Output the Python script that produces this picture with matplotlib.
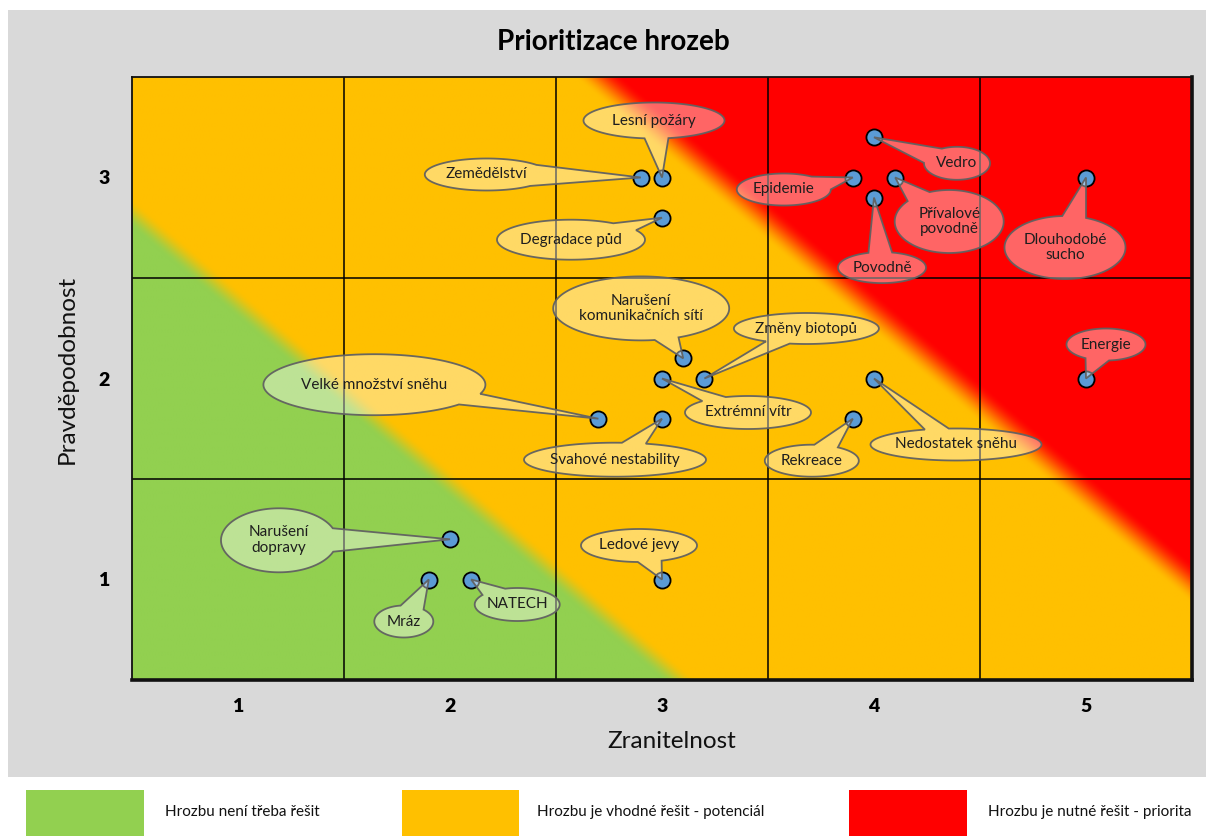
import numpy as np
import matplotlib
matplotlib.use("Agg")
import matplotlib.pyplot as plt
from matplotlib.patches import Rectangle, Polygon

plt.rcParams['font.family'] = ['Lato', 'DejaVu Sans']

# ---------------- data ----------------
threats = [
    "Lesní požáry", "Zemědělství", "Degradace půd", "Vedro", "Epidemie",
    "Přívalové\npovodně", "Povodně", "Dlouhodobé\nsucho", "Energie",
    "Narušení\nkomunikačních sítí", "Změny biotopů", "Extrémní vítr",
    "Velké množství sněhu", "Svahové nestability", "Nedostatek sněhu",
    "Rekreace", "Narušení\ndopravy", "Mráz", "NATECH", "Ledové jevy",
]
vulnerability = [3.0, 2.9, 3.0, 4.0, 3.9, 4.1, 4.0, 5.0, 5.0, 3.1,
                 3.2, 3.0, 2.7, 3.0, 4.0, 3.9, 2.0, 1.9, 2.1, 3.0]
probability = [3.0, 3.0, 2.8, 3.2, 3.0, 3.0, 2.9, 3.0, 2.0, 2.1,
               2.0, 2.0, 1.8, 1.8, 2.0, 1.8, 1.2, 1.0, 1.0, 1.0]

x_ticks = [1, 2, 3, 4, 5]
y_ticks = [1, 2, 3]
x_tick_labels = ["1", "2", "3", "4", "5"]
y_tick_labels = ["1", "2", "3"]

title = "Prioritizace hrozeb"
x_label = "Zranitelnost"
y_label = "Pravděpodobnost"
legend_labels = ["Hrozbu není třeba řešit",
                 "Hrozbu je vhodné řešit - potenciál",
                 "Hrozbu je nutné řešit - priorita"]

# ---------------- layout (pixels) ----------------
# callout: offset of ellipse centre from point (dx right, dy down), ellipse w, h
callout_layout = [
    (-8, -57, 141, 36), (-154, -3, 124, 32), (-91, 22, 148, 40),
    (83, 26, 66, 33), (-69, 12, 94, 32), (54, 44, 109, 63),
    (8, 70, 88, 31), (-21, 70, 121, 63), (20, -34, 79, 32),
    (-42, -50, 176, 64), (102, -50, 145, 31), (86, 34, 126, 33),
    (-224, -34, 222, 61), (-47, 41, 182, 34), (82, 66, 171, 32),
    (-41, 42, 94, 32), (-171, 1, 116, 64), (-25, 42, 59, 32),
    (46, 25, 85, 33), (-23, -34, 116, 33),
]

W, H = 1206, 836
GREEN, ORANGE, RED = "#92D050", "#FFC000", "#FF0000"

fig = plt.figure(figsize=(W / 100, H / 100), dpi=100, facecolor="white")
fig.patches.append(Rectangle((8 / W, 1 - 777 / H), 1 - 8 / W, (777 - 10) / H,
                             transform=fig.transFigure, facecolor="#D9D9D9",
                             edgecolor="none", zorder=-5))

ax = fig.add_axes([132 / W, 1 - 680 / H, 1060 / W, 603 / H])
ax.set_zorder(2)

# background gradient (diagonal bands)
ny, nx = 500, 900
U, V = np.meshgrid((np.arange(nx) + 0.5) / nx, (np.arange(ny) + 0.5) / ny)
s = 1.5 * U + V


def smooth(t):
    t = np.clip(t, 0, 1)
    return t * t * (3 - 2 * t)


g2o = smooth((s - 0.750) / 0.05)[..., None]
o2r = smooth((s - 1.625) / 0.07)[..., None]
cg = np.array(matplotlib.colors.to_rgb(GREEN))
co = np.array(matplotlib.colors.to_rgb(ORANGE))
cr = np.array(matplotlib.colors.to_rgb(RED))
img = cg * (1 - g2o) + co * g2o
img = img * (1 - o2r) + cr * o2r
ax.imshow(img, extent=(0.5, 5.5, 0.5, 3.5), origin="lower", aspect="auto",
          interpolation="bilinear", zorder=0)
ax.set_xlim(0.5, 5.5)
ax.set_ylim(0.5, 3.5)

for gx in [1.5, 2.5, 3.5, 4.5]:
    ax.axvline(gx, color="black", lw=1.1, zorder=1)
for gy in [1.5, 2.5]:
    ax.axhline(gy, color="black", lw=1.1, zorder=1)

for side in ["left", "top"]:
    ax.spines[side].set_linewidth(1.3)
for side in ["right", "bottom"]:
    ax.spines[side].set_linewidth(2.6)
for sp in ax.spines.values():
    sp.set_color("#111111")
    sp.set_zorder(7)

ax.scatter(vulnerability, probability, s=135, c="#5B9BD5",
           edgecolors="black", linewidths=1.3, zorder=3)

ax.set_xticks(x_ticks)
ax.set_xticklabels(x_tick_labels, fontsize=14, fontweight="heavy")
ax.set_yticks(y_ticks)
ax.set_yticklabels(y_tick_labels, fontsize=14, fontweight="heavy")
ax.tick_params(axis="x", length=0, pad=13)
ax.tick_params(axis="y", length=0, pad=16)

# callouts
to_disp = ax.transData
inv = ax.transData.inverted()
for name, x, y, (dx, dy, w, h) in zip(threats, vulnerability, probability,
                                      callout_layout):
    tx, ty = to_disp.transform((x, y))
    cx, cy = tx + dx, ty - dy
    a, b = w / 2, h / 2
    t0 = np.arctan2((ty - cy) / b, (tx - cx) / a)
    speed = np.hypot(a * np.sin(t0), b * np.cos(t0))
    d = 12.0 / speed
    ts = np.linspace(t0 + d, t0 + 2 * np.pi - d, 160)
    pts = np.column_stack([cx + a * np.cos(ts), cy + b * np.sin(ts)])
    pts = np.vstack([pts, [tx, ty]])
    dpts = inv.transform(pts)
    ax.add_patch(Polygon(dpts, closed=True, facecolor=(1, 1, 1, 0.4),
                         edgecolor=(0.38, 0.38, 0.38, 0.95), lw=1.3, zorder=4))
    cxd, cyd = inv.transform((cx, cy))
    ax.text(cxd, cyd, name, ha="center", va="center", fontsize=11,
            color="#1E1E1E", zorder=6, linespacing=1.15)

fig.text(613 / W, 1 - 42 / H, title, ha="center", va="center",
         fontsize=20, fontweight="bold", color="black")
fig.text(672 / W, 1 - 742 / H, x_label, ha="center", va="center",
         fontsize=17.5, color="#111111")
fig.text(67 / W, 1 - 369 / H, y_label, ha="center", va="center",
         fontsize=17.5, rotation=90, color="#111111")

# legend
legend_boxes = [(26, 144), (402, 519), (849, 967)]
legend_text_x = [165, 537, 988]
for (x0, x1), col, lab, lx in zip(legend_boxes, [GREEN, ORANGE, RED],
                                  legend_labels, legend_text_x):
    fig.patches.append(Rectangle((x0 / W, 0), (x1 - x0) / W, (836 - 790) / H,
                                 transform=fig.transFigure, facecolor=col,
                                 edgecolor="none", zorder=1))
    fig.text(lx / W, 1 - 812 / H, lab, ha="left", va="center",
             fontsize=11, color="#111111")

fig.savefig("out.png", dpi=100, facecolor="white")
